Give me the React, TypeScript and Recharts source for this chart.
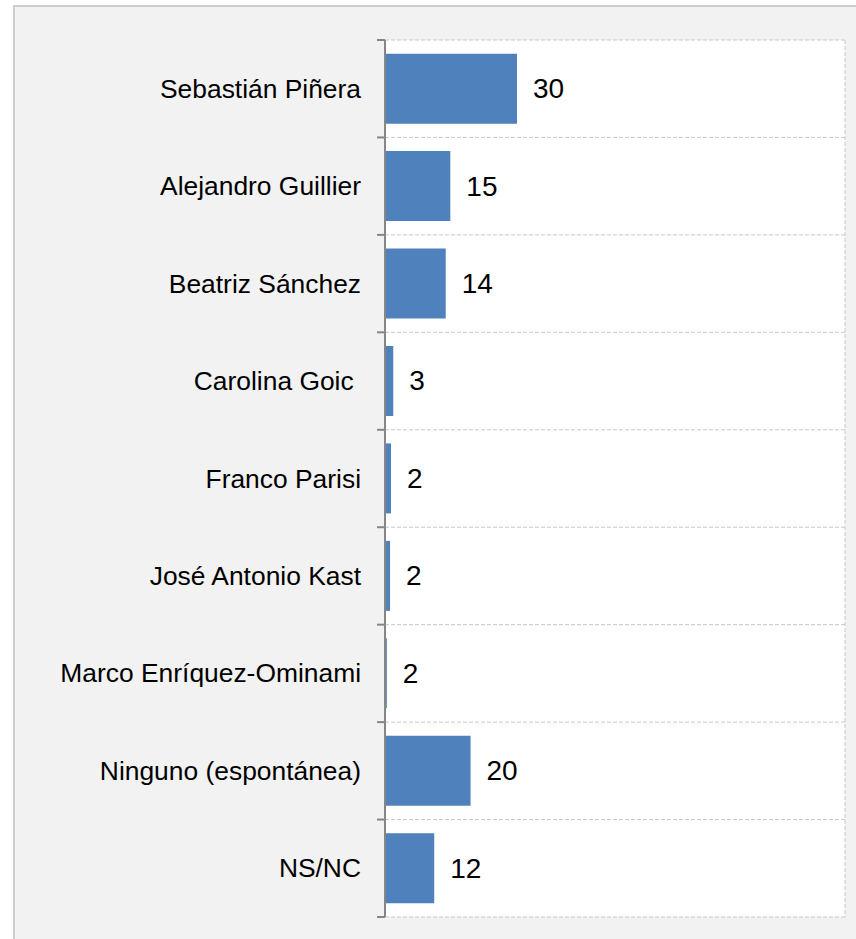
import { Bar, BarChart, CartesianGrid, LabelList, XAxis, YAxis } from "recharts"

// candidates, top to bottom
const candidates = [
  "Sebastián Piñera",
  "Alejandro Guillier",
  "Beatriz Sánchez",
  "Carolina Goic ",
  "Franco Parisi",
  "José Antonio Kast",
  "Marco Enríquez-Ominami",
  "Ninguno (espontánea)",
  "NS/NC",
]

// bar lengths as drawn (percent)
const barValues = [28.7, 14.2, 13.2, 1.8, 1.3, 1.1, 0.4, 18.6, 10.7]

// numbers printed next to each bar
const shownValues = [30, 15, 14, 3, 2, 2, 2, 20, 12]

const data = candidates.map((name, i) => ({
  name,
  value: barValues[i],
  shown: shownValues[i],
}))

const FONT = "Arial, 'Liberation Sans', sans-serif"

const CategoryTick = (props: any) => {
  const { x, y, payload, index, visibleTicksCount } = props
  const half = payload?.offset ?? 0
  const isLast = index === visibleTicksCount - 1
  return (
    <g>
      <line x1={x} x2={x + 8} y1={y - half} y2={y - half} stroke="#868686" strokeWidth={2} />
      {isLast && (
        <line x1={x} x2={x + 8} y1={y + half} y2={y + half} stroke="#868686" strokeWidth={2} />
      )}
      <text
        x={x - 16}
        y={y}
        textAnchor="end"
        dominantBaseline="central"
        fontSize={26.4}
        fontFamily={FONT}
        fill="#000"
        style={{ whiteSpace: "pre" }}
        xmlSpace="preserve"
      >
        {payload.value}
      </text>
    </g>
  )
}

const ValueLabel = (props: any) => {
  const { x, y, width, height, value } = props
  return (
    <text
      x={x + width + 16}
      y={y + height / 2}
      dominantBaseline="central"
      fontSize={28}
      fontFamily={FONT}
      fill="#000"
    >
      {value}
    </text>
  )
}

export default function App() {
  const n = candidates.length
  return (
    <div style={{ position: "fixed", left: 0, top: 0, width: 856, height: 939, overflow: "hidden", background: "#fff" }}>
      <div
        style={{
          position: "absolute",
          left: 13,
          top: 5,
          width: 900,
          height: 1000,
          border: "2px solid #cdcdcd",
          background: "#f2f2f2",
        }}
      />
      <div style={{ position: "absolute", left: 0, top: 0 }}>
        <BarChart
          width={856}
          height={939}
          data={data}
          layout="vertical"
          margin={{ top: 40, right: 11, bottom: 22, left: 0 }}
          barCategoryGap="14%"
        >
          <CartesianGrid
            fill="#ffffff"
            stroke="#c8c8c8"
            strokeDasharray="4 2"
            horizontalCoordinatesGenerator={({ offset }: any) =>
              Array.from({ length: n + 1 }, (_, i) => offset.top + (offset.height * i) / n)
            }
            verticalCoordinatesGenerator={({ offset }: any) => [offset.left + offset.width]}
          />
          <XAxis type="number" domain={[0, 100]} hide />
          <YAxis
            type="category"
            dataKey="name"
            width={385}
            axisLine={{ stroke: "#868686", strokeWidth: 2 }}
            tickLine={false}
            tick={<CategoryTick />}
            interval={0}
          />
          <Bar dataKey="value" fill="#4F81BD" isAnimationActive={false}>
            <LabelList dataKey="shown" content={<ValueLabel />} />
          </Bar>
        </BarChart>
      </div>
    </div>
  )
}
